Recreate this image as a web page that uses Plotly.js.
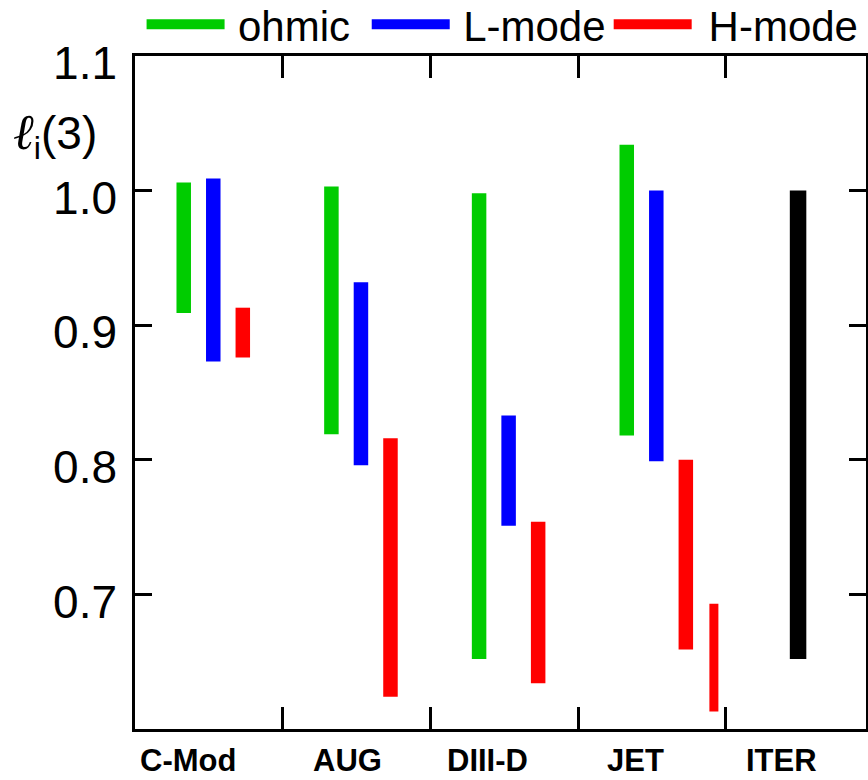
<!DOCTYPE html>
<html>
<head>
<meta charset="utf-8">
<script src="https://cdn.plot.ly/plotly-3.0.1.min.js"></script>
<style>html,body{margin:0;padding:0;background:#fff}</style>
</head>
<body>
<div id="chart" style="width:868px;height:780px"></div>
<script>
// Machines along the x axis
const machines = ['C-Mod', 'AUG', 'DIII-D', 'JET', 'ITER'];

// li(3) ranges (low / high) for each machine and regime; null = no range
const ohmicLow   = [0.909, 0.819, 0.652, 0.818, null];
const ohmicHigh  = [1.006, 1.003, 0.998, 1.034, null];
const lmodeLow   = [0.873, 0.796, 0.751, 0.799, null];
const lmodeHigh  = [1.009, 0.932, 0.833, 1.000, null];
const hmodeLow   = [0.876, 0.624, 0.634, 0.659, null];
const hmodeHigh  = [0.913, 0.816, 0.754, 0.800, null];
const hmode2Low  = [null, null, null, 0.613, null];   // second JET H-mode range
const hmode2High = [null, null, null, 0.693, null];
const iterLow    = [null, null, null, null, 0.652];
const iterHigh   = [null, null, null, null, 1.000];

const yTickVals = [0.7, 0.8, 0.9, 1.0, 1.1];
const yTickText = ['0.7', '0.8', '0.9', '1.0', '1.1'];

// --- layout helpers (positions inside each machine slot) ---
const slot = {ohmic: 0.33, lmode: 0.53, hmode: 0.73, hmode2: 0.92, iter: 0.49};
const labelPos = [0.36, 1.44, 2.39, 3.39, 4.38];
const yRange = [0.6, 1.1];
const labelDrop = 0.0052;   // tick numbers sit a little below their ticks

function segments(lo, hi, off) {
  const x = [], y = [];
  lo.forEach((v, i) => {
    if (v === null || hi[i] === null) return;
    x.push(i + off, i + off, null);
    y.push(v, hi[i], null);
  });
  return {x, y};
}

function rangeTrace(lo, hi, off, color, width, group, label, legend) {
  const s = segments(lo, hi, off);
  return {
    type: 'scatter', mode: 'lines', x: s.x, y: s.y,
    line: {color: color, width: width},
    name: label, showlegend: !!legend, legend: legend || 'legend',
    hoverinfo: 'skip', legendgroup: group
  };
}

const traces = [
  rangeTrace(ohmicLow, ohmicHigh, slot.ohmic, '#00cc00', 14.5, 'ohmic', '\u2009ohmic', 'legend'),
  rangeTrace(lmodeLow, lmodeHigh, slot.lmode, '#0000ff', 14.5, 'lmode', '\u2009L-mode', 'legend2'),
  rangeTrace(hmodeLow, hmodeHigh, slot.hmode, '#ff0000', 14.5, 'hmode', '\u2009\u200aH-mode', 'legend3'),
  rangeTrace(hmode2Low, hmode2High, slot.hmode2, '#ff0000', 9, 'hmode', 'H-mode', null),
  rangeTrace(iterLow, iterHigh, slot.iter, '#000000', 16.5, 'iter', 'ITER', null),
  // empty trace that ties the label-only axis into the plot
  {type: 'scatter', mode: 'lines', x: [], y: [], yaxis: 'y2', showlegend: false, hoverinfo: 'skip'}
];

const annotations = machines.map((m, i) => ({
  text: m, x: labelPos[i], xref: 'x', y: -0.047, yref: 'paper',
  xanchor: 'center', yanchor: 'middle', showarrow: false,
  font: {family: 'Liberation Sans, Arial', size: 31, color: '#000', weight: 'bold'}
}));
annotations.push({
  text: '<span style="font-family:\'DejaVu Serif\';font-style:italic;font-size:50px">\u2113</span><sub>i</sub>(3)',
  x: -0.11, xref: 'paper', y: 0.883, yref: 'paper',
  xanchor: 'center', yanchor: 'middle', showarrow: false,
  font: {family: 'Liberation Sans, Arial', size: 46, color: '#000'}
});

function legendAt(x) {
  return {
    orientation: 'h', x: x, xanchor: 'left', y: 1.047, yanchor: 'middle',
    font: {size: 42, color: '#000'}, itemwidth: 78,
    bgcolor: 'rgba(0,0,0,0)'
  };
}

const layout = {
  width: 868, height: 780,
  margin: {l: 135, r: 2, t: 56, b: 51, autoexpand: false},
  paper_bgcolor: '#fff', plot_bgcolor: '#fff',
  font: {family: 'Liberation Sans, Arial', color: '#000'},
  showlegend: true,
  legend: legendAt(0.009),
  legend2: legendAt(0.317),
  legend3: legendAt(0.648),
  xaxis: {
    range: [0, 4.95], showgrid: false, zeroline: false,
    showline: true, linecolor: '#000', linewidth: 3, mirror: 'ticks',
    ticks: 'inside', ticklen: 22, tickwidth: 3, tickcolor: '#000',
    tickvals: [1, 2, 3, 4], showticklabels: false
  },
  yaxis: {
    range: yRange, showgrid: false, zeroline: false,
    showline: true, linecolor: '#000', linewidth: 3, mirror: 'ticks',
    ticks: 'inside', ticklen: 17, tickwidth: 3, tickcolor: '#000',
    tickvals: yTickVals, showticklabels: false
  },
  // label-only axis carrying the y tick numbers
  yaxis2: {
    overlaying: 'y', side: 'left', anchor: 'x',
    range: [yRange[0] + labelDrop, yRange[1] + labelDrop],
    showgrid: false, zeroline: false, showline: false, ticks: '',
    tickvals: yTickVals, ticktext: yTickText,
    tickfont: {size: 46, color: '#000'}, ticklabelstandoff: 17
  },
  annotations: annotations
};

Plotly.newPlot('chart', traces, layout, {displayModeBar: false, staticPlot: true});
</script>
</body>
</html>
